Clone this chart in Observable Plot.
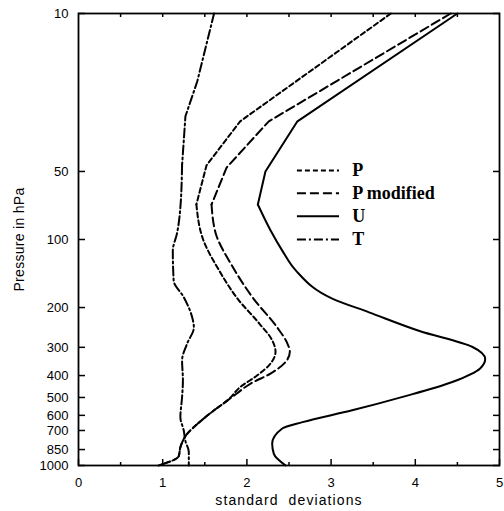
<!DOCTYPE html>
<html>
<head>
<meta charset="utf-8">
<script src="https://cdn.jsdelivr.net/npm/d3@7"></script>
<script src="https://cdn.jsdelivr.net/npm/@observablehq/plot@0.6"></script>
<style>
  html, body { margin: 0; padding: 0; background: white; }
</style>
</head>
<body>
<div id="chart"></div>
<script>
// ---- data ----
const pressureTicks = [10, 50, 100, 200, 300, 400, 500, 600, 700, 850, 1000];
const sdTicks = [0, 1, 2, 3, 4, 5];
const sdMinorTicks = [0.5, 1.5, 2.5, 3.5, 4.5];
const sdTopTicks = [0.5, 1, 1.5, 2, 2.5, 3, 3.5, 4, 4.5];

const seriesNames = ["P", "P modified", "U", "T"];

const pressP  = [10, 30, 47, 70, 100, 137, 185, 236, 279, 314, 354, 400, 450, 515, 570, 656, 725, 830, 910, 1000];
const sdP     = [3.71, 1.92, 1.52, 1.40, 1.48, 1.67, 1.90, 2.15, 2.30, 2.34, 2.28, 2.12, 1.92, 1.77, 1.61, 1.41, 1.29, 1.21, 1.19, 0.95];

const pressPm = [10, 30, 48, 70, 94, 130, 183, 245, 288, 314, 348, 392, 435, 480, 515, 570, 656, 725, 830, 910, 1000];
const sdPm    = [4.42, 2.26, 1.76, 1.58, 1.63, 1.82, 2.08, 2.36, 2.48, 2.51, 2.46, 2.28, 2.04, 1.88, 1.77, 1.61, 1.41, 1.29, 1.21, 1.19, 0.95];

const pressU  = [10, 30, 50, 70, 91, 112, 137, 183, 210, 254, 299, 338, 372, 427, 497, 570, 643, 686, 800, 888, 1000];
const sdU     = [4.50, 2.60, 2.22, 2.13, 2.28, 2.42, 2.58, 3.02, 3.45, 4.05, 4.68, 4.83, 4.77, 4.44, 3.85, 3.25, 2.66, 2.42, 2.30, 2.32, 2.46];

const pressT  = [10, 20, 28.5, 47, 72, 94, 112, 152, 180, 221, 245, 289, 343, 420, 499, 611, 700, 780, 870, 1000];
const sdT     = [1.61, 1.41, 1.27, 1.23, 1.21, 1.17, 1.12, 1.13, 1.25, 1.35, 1.37, 1.29, 1.23, 1.24, 1.23, 1.21, 1.25, 1.27, 1.31, 1.31];

// ---- styles / layout ----
const dashes = {"P": "5,3", "P modified": "9,4", "U": null, "T": "9,3,2,3"};
const straightPoints = 4;                     // upper profile drawn as straight segments
const legendRowsP = [49.5, 62.5, 79, 100];   // legend rows placed in pressure units
const legendX = [2.6, 3.1, 3.25];             // line start, line end, text start (sd units)

const table = (ps, xs) => ps.map((p, i) => ({p, sd: xs[i]}));
const seriesData = {
  "P": table(pressP, sdP),
  "P modified": table(pressPm, sdPm),
  "U": table(pressU, sdU),
  "T": table(pressT, sdT)
};

const lineStyle = name => ({
  x: "sd", y: "p", stroke: "black", strokeWidth: 2,
  strokeDasharray: dashes[name] ?? undefined
});

const lineMarks = seriesNames.flatMap(name => {
  const d = seriesData[name];
  return [
    Plot.line(d.slice(0, straightPoints), {...lineStyle(name), curve: "linear"}),
    Plot.line(d.slice(straightPoints - 1), {...lineStyle(name), curve: "monotone-y"})
  ];
});

const legendMarks = seriesNames.flatMap((name, i) => [
  Plot.ruleY([legendRowsP[i]], {
    x1: legendX[0], x2: legendX[1], stroke: "black", strokeWidth: 2,
    strokeDasharray: dashes[name] ?? undefined
  }),
  Plot.text([name], {
    x: legendX[2], y: legendRowsP[i], text: d => d, textAnchor: "start",
    fontFamily: "Liberation Serif, Times New Roman, serif", fontWeight: "bold",
    fontSize: 18, fill: "black"
  })
]);

const chart = Plot.plot({
  width: 504,
  height: 511,
  marginTop: 13,
  marginRight: 5,
  marginBottom: 46,
  marginLeft: 78,
  style: {fontFamily: "Liberation Sans, Arial, sans-serif", fontSize: "13px", color: "black", background: "white"},
  x: {domain: [0, 5]},
  y: {type: "log", domain: [10, 1000], reverse: true},
  marks: [
    // left axis: inward ticks
    Plot.axisY(pressureTicks, {anchor: "left", tickSize: -7, strokeWidth: 1.5,
      tickFormat: () => "", label: null}),
    // left axis labels
    Plot.text(pressureTicks, {y: d => d, frameAnchor: "left", dx: -10, textAnchor: "end",
      text: d => String(d), fontSize: 13, fill: "black"}),
    // right axis: inward ticks only
    Plot.axisY(pressureTicks, {anchor: "right", tickSize: -7, strokeWidth: 1.5,
      tickFormat: () => "", label: null}),
    // bottom axis: major inward ticks + labels
    Plot.axisX(sdTicks, {anchor: "bottom", tickSize: -6, tickPadding: 18, strokeWidth: 1.5,
      tickFormat: d => String(d), fontSize: 13, label: null}),
    // bottom minor ticks
    Plot.axisX(sdMinorTicks, {anchor: "bottom", tickSize: -3, strokeWidth: 1.5,
      tickFormat: () => "", label: null}),
    // top minor ticks
    Plot.axisX(sdTopTicks, {anchor: "top", tickSize: -3, strokeWidth: 1.5,
      tickFormat: () => "", label: null}),
    Plot.frame({stroke: "black", strokeWidth: 1.8}),
    ...lineMarks,
    ...legendMarks,
    Plot.text(["Pressure in hPa"], {frameAnchor: "left", rotate: -90, dx: -59, textAnchor: "middle",
      fontSize: 14, fill: "black", text: d => d}),
    Plot.text(["standard  deviations"], {frameAnchor: "bottom", dy: 39, textAnchor: "middle",
      fontSize: 14, fill: "black", text: d => d})
  ]
});

// widen the letter spacing of the axis titles as in the scanned figure
d3.select(chart).selectAll("text")
  .filter(function() { return this.textContent === "standard  deviations"; })
  .style("letter-spacing", "1.1px").style("white-space", "pre");
d3.select(chart).selectAll("text")
  .filter(function() { return this.textContent === "Pressure in hPa"; })
  .style("letter-spacing", "0.3px");

document.getElementById("chart").append(chart);
</script>
</body>
</html>
